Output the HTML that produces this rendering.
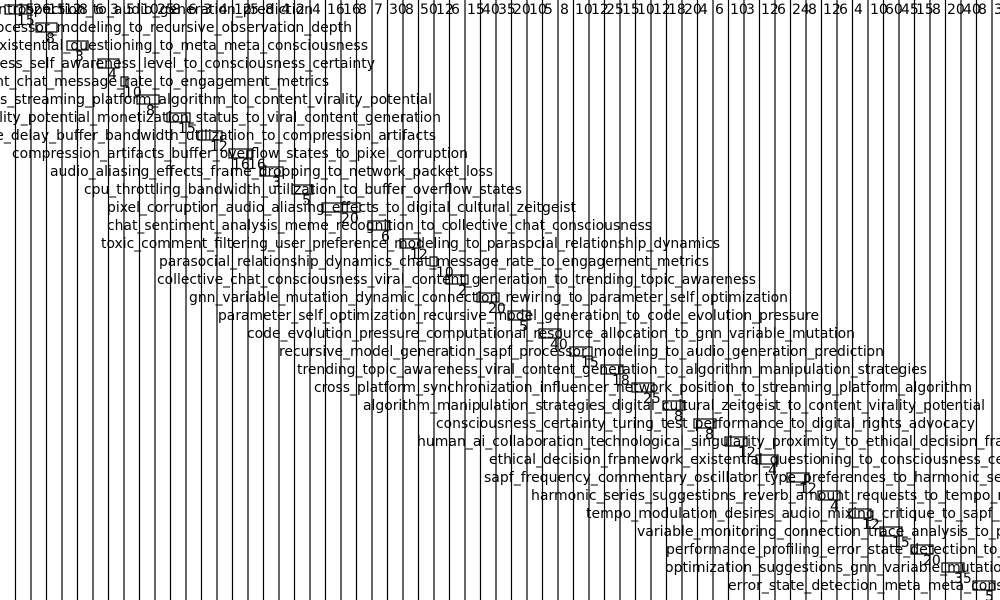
<!DOCTYPE html>
<html><head><meta charset="utf-8"><style>
html,body{margin:0;padding:0;background:#fff;}
svg{display:block}
text{font-family:"DejaVu Sans","Liberation Sans",sans-serif;font-size:14px;fill:#000}
</style></head><body>
<svg width="1000" height="600" viewBox="0 0 1000 600" xmlns="http://www.w3.org/2000/svg">
<g stroke="#000" stroke-width="1.2">
<line x1="15.5" y1="0" x2="15.5" y2="600"/><line x1="31" y1="0" x2="31" y2="600"/><line x1="46.5" y1="0" x2="46.5" y2="600"/><line x1="62" y1="0" x2="62" y2="600"/><line x1="77.5" y1="0" x2="77.5" y2="600"/><line x1="93" y1="0" x2="93" y2="600"/><line x1="108.5" y1="0" x2="108.5" y2="600"/><line x1="124" y1="0" x2="124" y2="600"/><line x1="139.5" y1="0" x2="139.5" y2="600"/><line x1="155" y1="0" x2="155" y2="600"/><line x1="170.5" y1="0" x2="170.5" y2="600"/><line x1="186" y1="0" x2="186" y2="600"/><line x1="201.5" y1="0" x2="201.5" y2="600"/><line x1="217" y1="0" x2="217" y2="600"/><line x1="232.5" y1="0" x2="232.5" y2="600"/><line x1="248" y1="0" x2="248" y2="600"/><line x1="263.5" y1="0" x2="263.5" y2="600"/><line x1="279" y1="0" x2="279" y2="600"/><line x1="294.5" y1="0" x2="294.5" y2="600"/><line x1="310" y1="0" x2="310" y2="600"/><line x1="325.5" y1="0" x2="325.5" y2="600"/><line x1="341" y1="0" x2="341" y2="600"/><line x1="356.5" y1="0" x2="356.5" y2="600"/><line x1="372" y1="0" x2="372" y2="600"/><line x1="387.5" y1="0" x2="387.5" y2="600"/><line x1="403" y1="0" x2="403" y2="600"/><line x1="418.5" y1="0" x2="418.5" y2="600"/><line x1="434" y1="0" x2="434" y2="600"/><line x1="449.5" y1="0" x2="449.5" y2="600"/><line x1="465" y1="0" x2="465" y2="600"/><line x1="480.5" y1="0" x2="480.5" y2="600"/><line x1="496" y1="0" x2="496" y2="600"/><line x1="511.5" y1="0" x2="511.5" y2="600"/><line x1="527" y1="0" x2="527" y2="600"/><line x1="542.5" y1="0" x2="542.5" y2="600"/><line x1="558" y1="0" x2="558" y2="600"/><line x1="573.5" y1="0" x2="573.5" y2="600"/><line x1="589" y1="0" x2="589" y2="600"/><line x1="604.5" y1="0" x2="604.5" y2="600"/><line x1="620" y1="0" x2="620" y2="600"/><line x1="635.5" y1="0" x2="635.5" y2="600"/><line x1="651" y1="0" x2="651" y2="600"/><line x1="666.5" y1="0" x2="666.5" y2="600"/><line x1="682" y1="0" x2="682" y2="600"/><line x1="697.5" y1="0" x2="697.5" y2="600"/><line x1="713" y1="0" x2="713" y2="600"/><line x1="728.5" y1="0" x2="728.5" y2="600"/><line x1="744" y1="0" x2="744" y2="600"/><line x1="759.5" y1="0" x2="759.5" y2="600"/><line x1="775" y1="0" x2="775" y2="600"/><line x1="790.5" y1="0" x2="790.5" y2="600"/><line x1="806" y1="0" x2="806" y2="600"/><line x1="821.5" y1="0" x2="821.5" y2="600"/><line x1="837" y1="0" x2="837" y2="600"/><line x1="852.5" y1="0" x2="852.5" y2="600"/><line x1="868" y1="0" x2="868" y2="600"/><line x1="883.5" y1="0" x2="883.5" y2="600"/><line x1="899" y1="0" x2="899" y2="600"/><line x1="914.5" y1="0" x2="914.5" y2="600"/><line x1="930" y1="0" x2="930" y2="600"/><line x1="945.5" y1="0" x2="945.5" y2="600"/><line x1="961" y1="0" x2="961" y2="600"/><line x1="976.5" y1="0" x2="976.5" y2="600"/><line x1="992" y1="0" x2="992" y2="600"/>
</g>
<g>
<text x="17" y="14">15</text><text x="33" y="14">26</text><text x="48" y="14">15</text><text x="64" y="14">12</text><text x="79" y="14">8</text><text x="95" y="14">6</text><text x="110" y="14">3</text><text x="126" y="14">5</text><text x="141" y="14">10</text><text x="157" y="14">25</text><text x="172" y="14">8</text><text x="188" y="14">6</text><text x="203" y="14">3</text><text x="219" y="14">4</text><text x="234" y="14">12</text><text x="250" y="14">5</text><text x="265" y="14">8</text><text x="281" y="14">4</text><text x="296" y="14">2</text><text x="312" y="14">4</text><text x="327" y="14">16</text><text x="343" y="14">16</text><text x="358" y="14">8</text><text x="374" y="14">7</text><text x="389" y="14">30</text><text x="405" y="14">8</text><text x="420" y="14">50</text><text x="436" y="14">12</text><text x="451" y="14">6</text><text x="467" y="14">15</text><text x="482" y="14">40</text><text x="498" y="14">35</text><text x="513" y="14">20</text><text x="529" y="14">10</text><text x="544" y="14">5</text><text x="560" y="14">8</text><text x="575" y="14">10</text><text x="591" y="14">12</text><text x="606" y="14">25</text><text x="622" y="14">15</text><text x="637" y="14">10</text><text x="653" y="14">12</text><text x="668" y="14">18</text><text x="684" y="14">20</text><text x="699" y="14">4</text><text x="715" y="14">6</text><text x="730" y="14">10</text><text x="746" y="14">3</text><text x="761" y="14">12</text><text x="777" y="14">6</text><text x="792" y="14">24</text><text x="808" y="14">8</text><text x="823" y="14">12</text><text x="839" y="14">6</text><text x="854" y="14">4</text><text x="870" y="14">10</text><text x="885" y="14">60</text><text x="901" y="14">45</text><text x="916" y="14">15</text><text x="932" y="14">8</text><text x="947" y="14">20</text><text x="963" y="14">40</text><text x="978" y="14">8</text><text x="994" y="14">3</text>
</g>
<g fill="none" stroke="#000" stroke-width="1.2">
<rect x="5" y="5" width="22" height="9"/><rect x="36" y="23" width="21" height="9"/><rect x="67" y="41" width="21" height="9"/><rect x="98" y="59" width="21" height="9"/><rect x="121" y="77" width="7" height="9"/><rect x="137" y="95" width="22" height="9"/><rect x="167" y="113" width="23" height="9"/><rect x="198" y="131" width="24" height="9"/><rect x="229" y="149" width="23" height="9"/><rect x="260" y="167" width="23" height="9"/><rect x="292" y="185" width="21" height="9"/><rect x="322" y="203" width="38" height="9"/><rect x="368" y="221" width="22" height="9"/><rect x="400" y="239" width="20" height="9"/><rect x="430" y="257" width="7" height="9"/><rect x="446" y="275" width="22" height="9"/><rect x="477" y="293" width="22" height="9"/><rect x="508" y="311" width="22" height="9"/><rect x="539" y="329" width="22" height="9"/><rect x="570" y="347" width="22" height="9"/><rect x="601" y="365" width="22" height="9"/><rect x="632" y="383" width="22" height="9"/><rect x="663" y="401" width="22" height="9"/><rect x="694" y="419" width="22" height="9"/><rect x="725" y="437" width="22" height="9"/><rect x="756" y="455" width="22" height="9"/><rect x="787" y="473" width="22" height="9"/><rect x="818" y="491" width="22" height="9"/><rect x="849" y="509" width="22" height="9"/><rect x="880" y="527" width="22" height="9"/><rect x="911" y="545" width="22" height="9"/><rect x="942" y="563" width="22" height="9"/><rect x="973" y="581" width="22" height="9"/>
</g>
<g text-anchor="end">
<text x="313" y="14">introspection_to_audio_generation_prediction</text>
<text x="352" y="32">sapf_processor_modeling_to_recursive_observation_depth</text>
<text x="368" y="50">existential_questioning_to_meta_meta_consciousness</text>
<text x="375" y="68">consciousness_self_awareness_level_to_consciousness_certainty</text>
<text x="329" y="86">engagement_chat_message_rate_to_engagement_metrics</text>
<text x="432" y="104">influencers_streaming_platform_algorithm_to_content_virality_potential</text>
<text x="441" y="122">virality_potential_monetization_status_to_viral_content_generation</text>
<text x="436" y="140">latence_delay_buffer_bandwidth_utilization_to_compression_artifacts</text>
<text x="468" y="158" textLength="456" lengthAdjust="spacingAndGlyphs">compression_artifacts_buffer_overflow_states_to_pixel_corruption</text>
<text x="493" y="176" textLength="443" lengthAdjust="spacingAndGlyphs">audio_aliasing_effects_frame_dropping_to_network_packet_loss</text>
<text x="522" y="194" textLength="438" lengthAdjust="spacingAndGlyphs">cpu_throttling_bandwidth_utilization_to_buffer_overflow_states</text>
<text x="576" y="212" textLength="469" lengthAdjust="spacingAndGlyphs">pixel_corruption_audio_aliasing_effects_to_digital_cultural_zeitgeist</text>
<text x="652" y="230" textLength="545" lengthAdjust="spacingAndGlyphs">chat_sentiment_analysis_meme_recognition_to_collective_chat_consciousness</text>
<text x="720" y="248" textLength="619" lengthAdjust="spacingAndGlyphs">toxic_comment_filtering_user_preference_modeling_to_parasocial_relationship_dynamics</text>
<text x="709" y="266" textLength="550" lengthAdjust="spacingAndGlyphs">parasocial_relationship_dynamics_chat_message_rate_to_engagement_metrics</text>
<text x="756" y="284" textLength="599" lengthAdjust="spacingAndGlyphs">collective_chat_consciousness_viral_content_generation_to_trending_topic_awareness</text>
<text x="788" y="302" textLength="599" lengthAdjust="spacingAndGlyphs">gnn_variable_mutation_dynamic_connection_rewiring_to_parameter_self_optimization</text>
<text x="819" y="320" textLength="601" lengthAdjust="spacingAndGlyphs">parameter_self_optimization_recursive_model_generation_to_code_evolution_pressure</text>
<text x="855" y="338" textLength="608" lengthAdjust="spacingAndGlyphs">code_evolution_pressure_computational_resource_allocation_to_gnn_variable_mutation</text>
<text x="884" y="356" textLength="605" lengthAdjust="spacingAndGlyphs">recursive_model_generation_sapf_processor_modeling_to_audio_generation_prediction</text>
<text x="927" y="374" textLength="630" lengthAdjust="spacingAndGlyphs">trending_topic_awareness_viral_content_generation_to_algorithm_manipulation_strategies</text>
<text x="972" y="392" textLength="658" lengthAdjust="spacingAndGlyphs">cross_platform_synchronization_influencer_network_position_to_streaming_platform_algorithm</text>
</g>
<g>
<text x="363" y="410" textLength="622" lengthAdjust="spacingAndGlyphs">algorithm_manipulation_strategies_digital_cultural_zeitgeist_to_content_virality_potential</text>
<text x="436" y="428" textLength="539" lengthAdjust="spacingAndGlyphs">consciousness_certainty_turing_test_performance_to_digital_rights_advocacy</text>
<text x="417" y="446">human_ai_collaboration_technological_singularity_proximity_to_ethical_decision_framework</text>
<text x="489" y="464">ethical_decision_framework_existential_questioning_to_consciousness_certainty</text>
<text x="484" y="482">sapf_frequency_commentary_oscillator_type_preferences_to_harmonic_series_suggestions</text>
<text x="531" y="500">harmonic_series_suggestions_reverb_amount_requests_to_tempo_modulation_desires</text>
<text x="586" y="518">tempo_modulation_desires_audio_mixing_critique_to_sapf_performance</text>
<text x="637" y="536">variable_monitoring_connection_trace_analysis_to_performance_profiling</text>
<text x="666" y="554">performance_profiling_error_state_detection_to_optimization</text>
<text x="665" y="572">optimization_suggestions_gnn_variable_mutation_to_error</text>
<text x="728" y="590">error_state_detection_meta_meta_consciousness</text>
</g>
<g>
<text x="17" y="25">15</text><text x="46" y="43">8</text><text x="75" y="61">3</text><text x="108" y="79">4</text><text x="124" y="97">10</text><text x="146" y="115">8</text><text x="178" y="133">15</text><text x="210" y="151">12</text><text x="232" y="169">16</text><text x="248" y="169">16</text><text x="272" y="187">3</text><text x="302" y="205">5</text><text x="341" y="223">20</text><text x="381" y="241">6</text><text x="410" y="259">12</text><text x="436" y="277">10</text><text x="458" y="295">2</text><text x="488" y="313">20</text><text x="519" y="331">5</text><text x="550" y="349">40</text><text x="581" y="367">15</text><text x="612" y="385">18</text><text x="643" y="403">25</text><text x="674" y="421">8</text><text x="705" y="439">8</text><text x="738" y="457">12</text><text x="768" y="475">4</text><text x="799" y="493">12</text><text x="830" y="511">4</text><text x="862" y="529">12</text><text x="892" y="547">15</text><text x="923" y="565">20</text><text x="954" y="583">35</text><text x="985" y="601">5</text>
</g>
</svg>
</body></html>
